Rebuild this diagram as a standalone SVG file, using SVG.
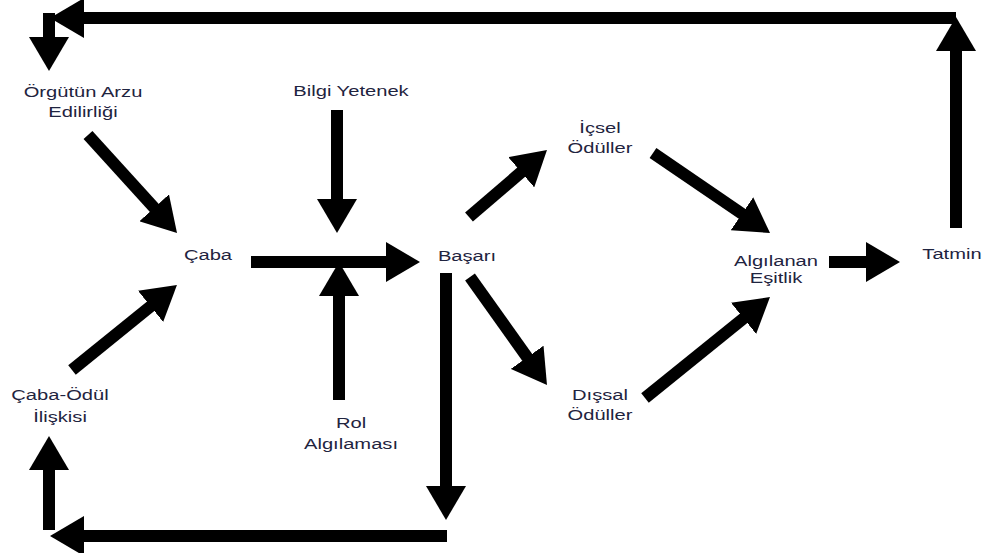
<svg xmlns="http://www.w3.org/2000/svg" width="994" height="553" viewBox="0 0 994 553">
  <defs>
    <marker id="head" markerUnits="userSpaceOnUse" viewBox="0 0 34 40" markerWidth="34" markerHeight="40" refX="2" refY="20" orient="auto">
      <path d="M0,0 L34,20 L0,40 Z" fill="#000"/>
    </marker>
    <style>
      .lbl { font-family: "Liberation Sans", Arial, sans-serif; font-size: 15.5px; fill: #1f2440; text-anchor: middle; }
      .arr { stroke: #000; stroke-width: 12; fill: none; stroke-linecap: butt; }
      .arr.h { marker-end: url(#head); }
    </style>
  </defs>
  <rect width="994" height="553" fill="#fff"/>

  <g id="connectors">
    <!-- feedback loop along the top -->
    <line class="arr h" x1="956" y1="18" x2="82" y2="18"/>
    <line class="arr h" x1="49" y1="13" x2="49" y2="39"/>
    <line class="arr h" x1="956" y1="228" x2="956" y2="49"/>
    <!-- inputs to effort -->
    <line class="arr h" x1="88" y1="135" x2="155.5" y2="209.3"/>
    <line class="arr h" x1="72" y1="370" x2="152.1" y2="305.1"/>
    <!-- effort to performance -->
    <line class="arr h" x1="251" y1="262" x2="388" y2="262"/>
    <line class="arr h" x1="337" y1="110" x2="337" y2="201"/>
    <line class="arr h" x1="339" y1="400" x2="339" y2="294"/>
    <!-- feedback loop along the bottom -->
    <line class="arr h" x1="446" y1="273" x2="446" y2="488"/>
    <line class="arr h" x1="447" y1="536" x2="82" y2="536"/>
    <line class="arr h" x1="49" y1="530" x2="49" y2="468"/>
    <!-- rewards -->
    <line class="arr h" x1="469" y1="217" x2="522.7" y2="170.9"/>
    <line class="arr h" x1="470" y1="277" x2="528.4" y2="358.9"/>
    <line class="arr h" x1="653" y1="153" x2="743.6" y2="214.9"/>
    <line class="arr h" x1="645" y1="398" x2="745.1" y2="317.1"/>
    <line class="arr h" x1="829" y1="262" x2="868" y2="262"/>
  </g>

  <g id="orgutun-arzu">
    <text class="lbl" transform="translate(83,97) scale(1.3,1)">Örgütün Arzu<tspan x="0" dy="20">Edilirliği</tspan></text>
  </g>
  <g id="bilgi-yetenek">
    <text class="lbl" transform="translate(351,96) scale(1.3,1)">Bilgi Yetenek</text>
  </g>
  <g id="caba">
    <text class="lbl" transform="translate(208,260) scale(1.3,1)">Çaba</text>
  </g>
  <g id="basari">
    <text class="lbl" transform="translate(467,261) scale(1.3,1)">Başarı</text>
  </g>
  <g id="icsel-oduller">
    <text class="lbl" transform="translate(600,133) scale(1.3,1)">İçsel<tspan x="0" dy="20">Ödüller</tspan></text>
  </g>
  <g id="dissal-oduller">
    <text class="lbl" transform="translate(600,400) scale(1.3,1)">Dışsal<tspan x="0" dy="20">Ödüller</tspan></text>
  </g>
  <g id="algilanan-esitlik">
    <text class="lbl" transform="translate(776,266) scale(1.3,1)">Algılanan<tspan x="0" dy="17">Eşitlik</tspan></text>
  </g>
  <g id="tatmin">
    <text class="lbl" transform="translate(952,259) scale(1.3,1)">Tatmin</text>
  </g>
  <g id="caba-odul">
    <text class="lbl" transform="translate(60,400) scale(1.3,1)">Çaba-Ödül<tspan x="0" dy="22">İlişkisi</tspan></text>
  </g>
  <g id="rol-algilamasi">
    <text class="lbl" transform="translate(351,428) scale(1.3,1)">Rol<tspan x="0" dy="21">Algılaması</tspan></text>
  </g>
</svg>
